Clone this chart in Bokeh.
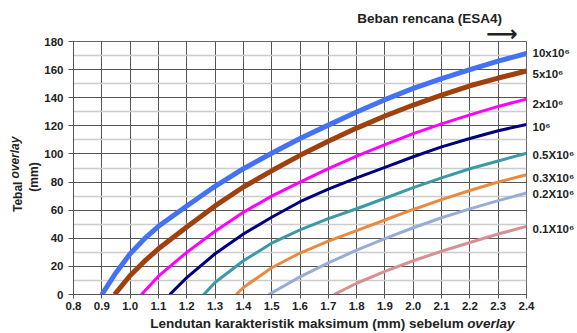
from bokeh.plotting import figure
from bokeh.models import FixedTicker, PrintfTickFormatter, Range1d, LinearAxis
from bokeh.embed import file_html
from bokeh.resources import INLINE

# Design load (ESA4) curves: overlay thickness (mm) vs. characteristic deflection (mm)
series_names = ["10x10⁶", "5x10⁶", "2x10⁶", "10⁶", "0.5X10⁶", "0.3X10⁶", "0.2X10⁶", "0.1X10⁶"]

esa_10e6_x = [0.9, 0.95, 1.0, 1.05, 1.1, 1.2, 1.3, 1.4, 1.5, 1.6, 1.7, 1.8, 1.9, 2.0, 2.1, 2.2, 2.3, 2.4]
esa_10e6_y = [0, 15.5, 29, 39.5, 48.5, 63, 77, 89.5, 100.5, 111, 120.5, 129.8, 138.6, 146.6, 153.6, 160, 166, 171.5]

esa_5e6_x = [0.945, 1.0, 1.05, 1.1, 1.2, 1.3, 1.4, 1.5, 1.6, 1.7, 1.8, 1.9, 2.0, 2.1, 2.2, 2.3, 2.4]
esa_5e6_y = [0, 13.5, 23.5, 32.5, 48, 63, 76.5, 88, 99, 109, 118.4, 127, 134.8, 141.9, 148.5, 154, 159]

esa_2e6_x = [1.04, 1.1, 1.2, 1.3, 1.4, 1.5, 1.6, 1.7, 1.8, 1.9, 2.0, 2.1, 2.2, 2.3, 2.4]
esa_2e6_y = [0, 13, 30, 45, 58.5, 70, 80, 89.5, 98.5, 106.6, 114.4, 121.4, 127.8, 133.8, 139]

esa_1e6_x = [1.14, 1.2, 1.3, 1.4, 1.5, 1.6, 1.7, 1.8, 1.9, 2.0, 2.1, 2.2, 2.3, 2.4]
esa_1e6_y = [0, 12, 29, 43, 55, 66, 75, 83, 90.5, 98, 105, 111, 116.5, 121]

esa_05e6_x = [1.26, 1.3, 1.4, 1.5, 1.6, 1.7, 1.8, 1.9, 2.0, 2.1, 2.2, 2.3, 2.4]
esa_05e6_y = [0, 8.5, 24, 36.5, 46, 54, 61, 68.5, 76, 83, 89.5, 95, 100.5]

esa_03e6_x = [1.375, 1.4, 1.5, 1.6, 1.7, 1.8, 1.9, 2.0, 2.1, 2.2, 2.3, 2.4]
esa_03e6_y = [0, 5, 19, 29.5, 38, 45.5, 53, 60.5, 67.5, 74, 80, 85.2]

esa_02e6_x = [1.49, 1.6, 1.7, 1.8, 1.9, 2.0, 2.1, 2.2, 2.3, 2.4]
esa_02e6_y = [0, 12.5, 22.5, 31.5, 39.8, 47.5, 54.6, 60.9, 66.8, 72.2]

esa_01e6_x = [1.72, 1.8, 1.9, 2.0, 2.1, 2.2, 2.3, 2.4]
esa_01e6_y = [0, 8, 16.5, 24, 30.8, 37, 43, 48.5]

x_ticks = [0.8, 0.9, 1.0, 1.1, 1.2, 1.3, 1.4, 1.5, 1.6, 1.7, 1.8, 1.9, 2.0, 2.1, 2.2, 2.3, 2.4]
y_ticks = [0, 20, 40, 60, 80, 100, 120, 140, 160, 180]
y_minor = [10, 30, 50, 70, 90, 110, 130, 150, 170]

series = [
    (esa_10e6_x, esa_10e6_y, "#4472F5", 5, 0.5),
    (esa_5e6_x, esa_5e6_y, "#A0410D", 5, -2),
    (esa_2e6_x, esa_2e6_y, "#FF00FF", 3, -3.5),
    (esa_1e6_x, esa_1e6_y, "#00007F", 3, -2),
    (esa_05e6_x, esa_05e6_y, "#3B9AA6", 3, -1),
    (esa_03e6_x, esa_03e6_y, "#E88B3F", 3, -2.5),
    (esa_02e6_x, esa_02e6_y, "#98ADD6", 3, -1),
    (esa_01e6_x, esa_01e6_y, "#D89090", 3, -2),
]

FONT = "Liberation Sans"
TXT = "#222222"


def text_axis(pos, text, size, style="bold", standoff=0, orientation="horizontal", font=FONT):
    """An axis with no line or ticks that only shows one piece of text at `pos`."""
    ax = LinearAxis(ticker=FixedTicker(ticks=[pos]), major_label_overrides={pos: text})
    ax.axis_line_color = None
    ax.major_tick_line_color = None
    ax.minor_tick_line_color = None
    ax.major_tick_in = 0
    ax.major_tick_out = 0
    ax.major_label_standoff = standoff
    ax.major_label_orientation = orientation
    ax.major_label_text_font = font
    ax.major_label_text_font_style = style
    ax.major_label_text_font_size = size
    ax.major_label_text_color = TXT
    return ax


p = figure(width=577, height=333, x_range=Range1d(0.8, 2.4), y_range=Range1d(0, 180),
           output_backend="svg", toolbar_location=None,
           min_border_left=73, min_border_right=50, min_border_top=41, min_border_bottom=37)

p.background_fill_color = "white"
p.border_fill_color = "white"
p.outline_line_color = "#666666"

p.xaxis.ticker = FixedTicker(ticks=x_ticks)
p.xaxis.formatter = PrintfTickFormatter(format="%.1f")
p.yaxis.ticker = FixedTicker(ticks=y_ticks, minor_ticks=y_minor)

for ax in (p.xaxis, p.yaxis):
    ax.axis_line_color = "#555555"
    ax.major_tick_line_color = "#555555"
    ax.major_tick_in = 0
    ax.minor_tick_line_color = None
    ax.major_label_text_font = FONT
    ax.major_label_text_font_style = "bold"
    ax.major_label_text_font_size = "11.5px"
    ax.major_label_text_color = TXT
p.xaxis.major_tick_out = 4
p.xaxis.major_label_standoff = 3
p.yaxis.major_tick_out = 5
p.yaxis.major_label_standoff = 5

p.xgrid.grid_line_color = "#555555"
p.xgrid.grid_line_width = 1
p.ygrid.grid_line_color = "#555555"
p.ygrid.grid_line_width = 1
p.ygrid.minor_grid_line_color = "#cccccc"
p.ygrid.minor_grid_line_width = 1.5

for xs, ys, color, width, _ in series:
    p.line(xs, ys, line_color=color, line_width=width)

# curve names on a right-hand axis, placed at the end value of each curve
label_pos = [ys[-1] + dy for (xs, ys, c, w, dy) in series]
right = LinearAxis(ticker=FixedTicker(ticks=label_pos),
                   major_label_overrides={v: n for v, n in zip(label_pos, series_names)})
right.axis_line_color = None
right.major_tick_line_color = None
right.minor_tick_line_color = None
right.major_tick_out = 0
right.major_tick_in = 0
right.major_label_standoff = 6
right.major_label_text_font = FONT
right.major_label_text_font_style = "bold"
right.major_label_text_font_size = "11.5px"
right.major_label_text_color = TXT
p.add_layout(right, "right")

# x axis title: bold text followed by italic "overlay" on the same row
p.add_layout(text_axis(1.6247, "Lendutan karakteristik maksimum (mm) sebelum", "13.5px",
                       standoff=3), "below")
p.add_layout(text_axis(2.2738, "overlay", "13.5px", style="bold italic", standoff=-18),
             "below")

# y axis title: "(mm)" next to the axis, "Tebal overlay" further out
p.add_layout(text_axis(83.6, "(mm)", "12px", standoff=0, orientation="parallel"), "left")
p.add_layout(text_axis(69.5, "Tebal", "12px", standoff=-1, orientation="parallel"), "left")
p.add_layout(text_axis(97.4, "overlay", "12px", style="bold italic", standoff=-14,
                       orientation="parallel"), "left")

# design load header with its arrow
p.add_layout(text_axis(2.3137, "⟶", "22px", style="bold", standoff=-4,
                       font="DejaVu Sans"), "above")
p.add_layout(text_axis(2.058, "Beban rencana (ESA4)", "13.5px", standoff=-8), "above")

open("out.html", "w").write(file_html(p, INLINE))
